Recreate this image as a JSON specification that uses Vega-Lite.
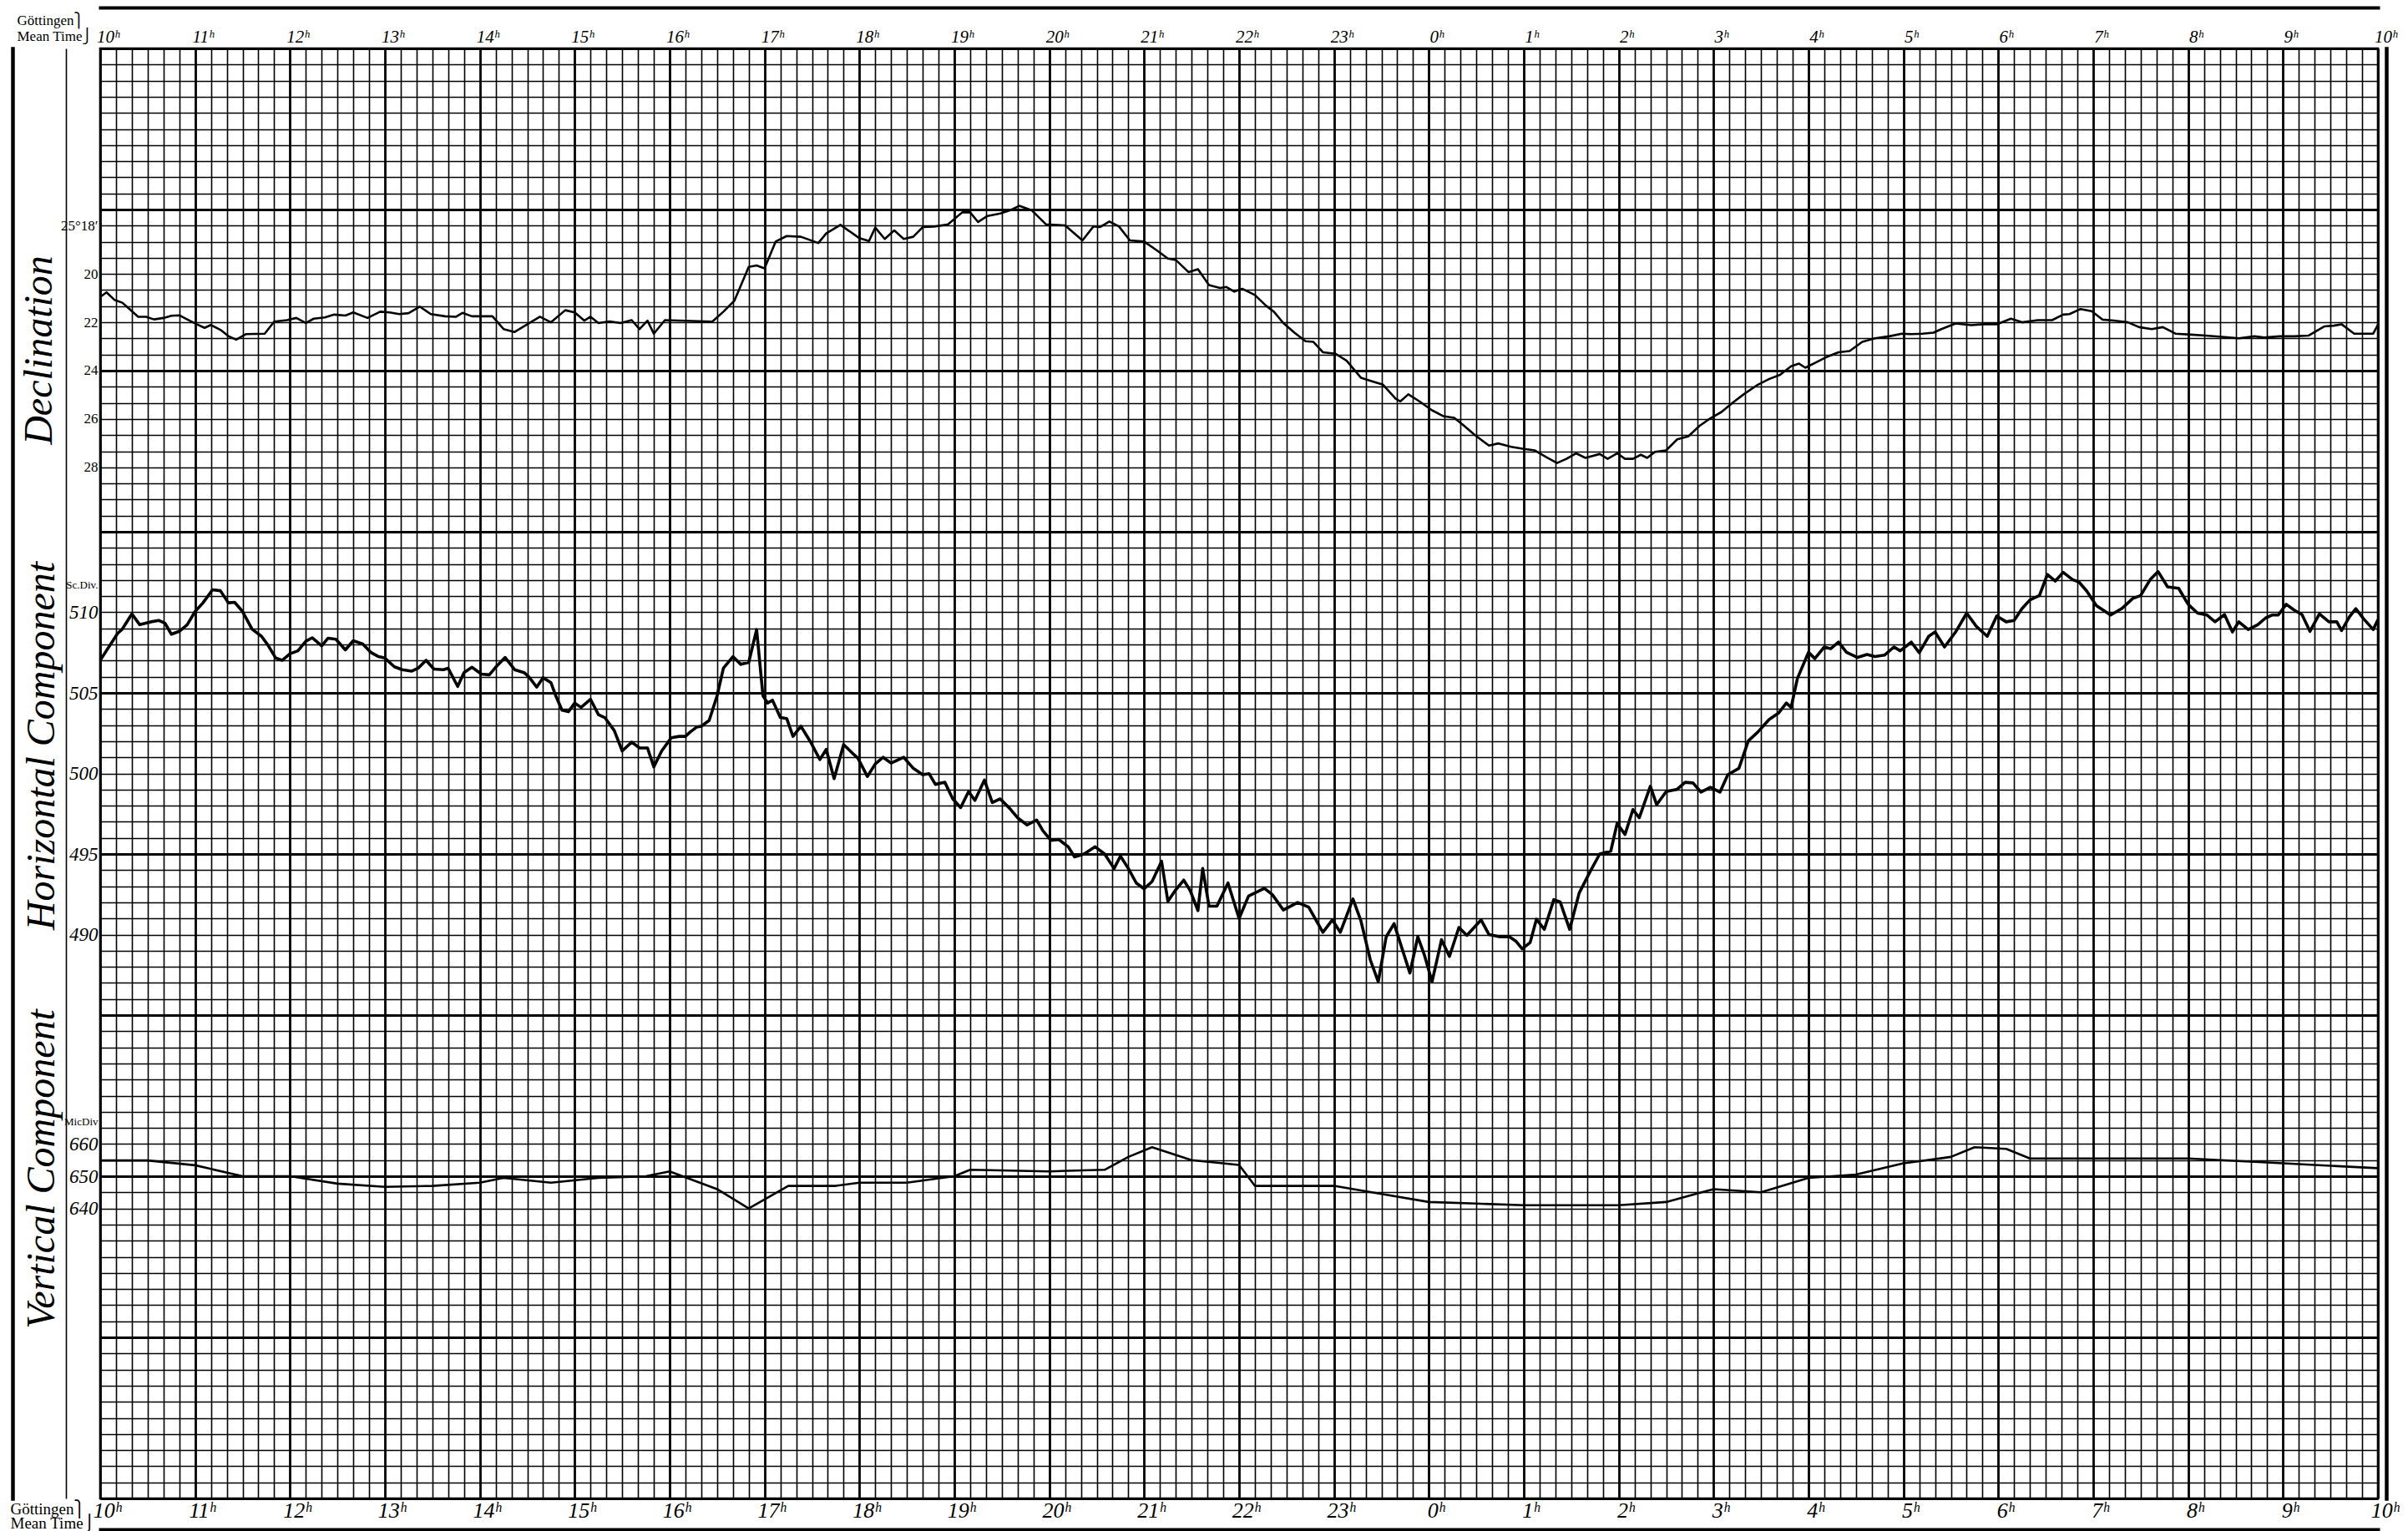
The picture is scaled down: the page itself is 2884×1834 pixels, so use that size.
{
  "$schema": "https://vega.github.io/schema/vega-lite/v6.json",
  "width": 2728,
  "height": 1737,
  "autosize": {"type": "none"},
  "padding": {"left": 120, "top": 58, "right": 36, "bottom": 39},
  "background": "white",
  "config": {
    "view": {"stroke": "black", "strokeWidth": 2.6},
    "axis": {"labelFont": "Liberation Serif", "titleFont": "Liberation Serif", "labelColor": "black", "titleColor": "black"}
  },
  "datasets": {
    "dec": [
      {"t":0,"dec":20.95},{"t":4,"dec":20.76},{"t":9,"dec":21.07},{"t":14,"dec":21.19},{"t":19,"dec":21.48},{"t":24,"dec":21.77},{"t":29,"dec":21.77},{"t":34,"dec":21.88},{"t":40,"dec":21.82},{"t":45,"dec":21.73},{"t":50,"dec":21.71},{"t":55,"dec":21.88},{"t":61,"dec":22.08},{"t":66,"dec":22.23},{"t":70,"dec":22.11},{"t":76,"dec":22.31},{"t":81,"dec":22.57},{"t":86,"dec":22.72},{"t":92,"dec":22.49},{"t":104,"dec":22.47},{"t":110,"dec":21.97},{"t":118,"dec":21.91},{"t":124,"dec":21.82},{"t":130,"dec":22.03},{"t":135,"dec":21.85},{"t":142,"dec":21.8},{"t":148,"dec":21.68},{"t":155,"dec":21.72},{"t":160,"dec":21.59},{"t":169,"dec":21.82},{"t":177,"dec":21.56},{"t":183,"dec":21.59},{"t":189,"dec":21.66},{"t":195,"dec":21.62},{"t":202,"dec":21.35},{"t":209,"dec":21.66},{"t":218,"dec":21.75},{"t":225,"dec":21.77},{"t":229,"dec":21.61},{"t":235,"dec":21.75},{"t":248,"dec":21.75},{"t":255,"dec":22.28},{"t":262,"dec":22.4},{"t":269,"dec":22.12},{"t":278,"dec":21.77},{"t":285,"dec":22.0},{"t":294,"dec":21.5},{"t":300,"dec":21.59},{"t":306,"dec":21.93},{"t":310,"dec":21.77},{"t":315,"dec":22.03},{"t":322,"dec":21.96},{"t":329,"dec":22.03},{"t":336,"dec":21.91},{"t":341,"dec":22.28},{"t":346,"dec":21.93},{"t":350,"dec":22.47},{"t":357,"dec":21.91},{"t":387,"dec":21.97},{"t":394,"dec":21.56},{"t":401,"dec":21.1},{"t":410,"dec":19.71},{"t":415,"dec":19.65},{"t":420,"dec":19.77},{"t":427,"dec":18.66},{"t":434,"dec":18.43},{"t":443,"dec":18.46},{"t":454,"dec":18.72},{"t":459,"dec":18.32},{"t":468,"dec":17.97},{"t":473,"dec":18.2},{"t":480,"dec":18.52},{"t":486,"dec":18.64},{"t":490,"dec":18.08},{"t":496,"dec":18.55},{"t":502,"dec":18.2},{"t":508,"dec":18.55},{"t":514,"dec":18.46},{"t":520,"dec":18.06},{"t":527,"dec":18.04},{"t":536,"dec":17.95},{"t":545,"dec":17.45},{"t":550,"dec":17.45},{"t":555,"dec":17.85},{"t":561,"dec":17.6},{"t":569,"dec":17.5},{"t":575,"dec":17.37},{"t":581,"dec":17.18},{"t":589,"dec":17.37},{"t":598,"dec":17.95},{"t":610,"dec":17.99},{"t":621,"dec":18.61},{"t":628,"dec":18.03},{"t":632,"dec":18.06},{"t":638,"dec":17.83},{"t":644,"dec":18.03},{"t":651,"dec":18.61},{"t":660,"dec":18.66},{"t":669,"dec":19.07},{"t":675,"dec":19.36},{"t":680,"dec":19.42},{"t":688,"dec":19.92},{"t":694,"dec":19.8},{"t":701,"dec":20.46},{"t":708,"dec":20.58},{"t":712,"dec":20.54},{"t":717,"dec":20.73},{"t":722,"dec":20.61},{"t":730,"dec":20.87},{"t":737,"dec":21.31},{"t":742,"dec":21.56},{"t":748,"dec":22.03},{"t":755,"dec":22.43},{"t":762,"dec":22.78},{"t":767,"dec":22.81},{"t":773,"dec":23.24},{"t":781,"dec":23.3},{"t":788,"dec":23.59},{"t":797,"dec":24.29},{"t":804,"dec":24.44},{"t":811,"dec":24.58},{"t":819,"dec":25.16},{"t":822,"dec":25.27},{"t":827,"dec":24.98},{"t":834,"dec":25.27},{"t":842,"dec":25.64},{"t":849,"dec":25.88},{"t":856,"dec":25.95},{"t":863,"dec":26.32},{"t":869,"dec":26.66},{"t":878,"dec":27.1},{"t":884,"dec":27.01},{"t":892,"dec":27.15},{"t":900,"dec":27.24},{"t":907,"dec":27.3},{"t":914,"dec":27.57},{"t":921,"dec":27.82},{"t":927,"dec":27.65},{"t":933,"dec":27.42},{"t":939,"dec":27.61},{"t":948,"dec":27.45},{"t":953,"dec":27.65},{"t":959,"dec":27.42},{"t":964,"dec":27.65},{"t":969,"dec":27.65},{"t":974,"dec":27.48},{"t":978,"dec":27.61},{"t":983,"dec":27.36},{"t":990,"dec":27.3},{"t":997,"dec":26.84},{"t":1004,"dec":26.72},{"t":1011,"dec":26.29},{"t":1018,"dec":25.97},{"t":1025,"dec":25.71},{"t":1032,"dec":25.33},{"t":1039,"dec":24.98},{"t":1048,"dec":24.58},{"t":1055,"dec":24.35},{"t":1062,"dec":24.17},{"t":1069,"dec":23.82},{"t":1074,"dec":23.71},{"t":1078,"dec":23.88},{"t":1085,"dec":23.65},{"t":1092,"dec":23.42},{"t":1099,"dec":23.24},{"t":1106,"dec":23.19},{"t":1114,"dec":22.81},{"t":1122,"dec":22.66},{"t":1131,"dec":22.58},{"t":1139,"dec":22.47},{"t":1145,"dec":22.49},{"t":1152,"dec":22.47},{"t":1159,"dec":22.43},{"t":1164,"dec":22.28},{"t":1173,"dec":22.05},{"t":1183,"dec":22.12},{"t":1192,"dec":22.07},{"t":1199,"dec":22.08},{"t":1208,"dec":21.85},{"t":1215,"dec":22.0},{"t":1225,"dec":21.91},{"t":1234,"dec":21.91},{"t":1241,"dec":21.68},{"t":1245,"dec":21.66},{"t":1252,"dec":21.45},{"t":1259,"dec":21.54},{"t":1266,"dec":21.89},{"t":1273,"dec":21.93},{"t":1282,"dec":22.0},{"t":1289,"dec":22.2},{"t":1297,"dec":22.28},{"t":1304,"dec":22.2},{"t":1312,"dec":22.47},{"t":1322,"dec":22.51},{"t":1331,"dec":22.55},{"t":1343,"dec":22.61},{"t":1352,"dec":22.66},{"t":1362,"dec":22.58},{"t":1368,"dec":22.63},{"t":1378,"dec":22.58},{"t":1387,"dec":22.58},{"t":1396,"dec":22.55},{"t":1406,"dec":22.17},{"t":1412,"dec":22.14},{"t":1417,"dec":22.08},{"t":1425,"dec":22.47},{"t":1437,"dec":22.47},{"t":1440,"dec":22.1}
    ],
    "hc": [
      {"t":0,"hc":507.02},{"t":11,"hc":508.69},{"t":14,"hc":508.96},{"t":20,"hc":509.9},{"t":25,"hc":509.23},{"t":32,"hc":509.41},{"t":37,"hc":509.5},{"t":41,"hc":509.32},{"t":45,"hc":508.64},{"t":50,"hc":508.82},{"t":55,"hc":509.23},{"t":60,"hc":510.05},{"t":65,"hc":510.59},{"t":71,"hc":511.4},{"t":76,"hc":511.34},{"t":81,"hc":510.59},{"t":85,"hc":510.62},{"t":90,"hc":510.05},{"t":96,"hc":508.96},{"t":102,"hc":508.51},{"t":106,"hc":507.97},{"t":111,"hc":507.16},{"t":115,"hc":507.02},{"t":120,"hc":507.43},{"t":125,"hc":507.61},{"t":130,"hc":508.21},{"t":134,"hc":508.42},{"t":140,"hc":507.92},{"t":144,"hc":508.39},{"t":149,"hc":508.33},{"t":155,"hc":507.67},{"t":160,"hc":508.24},{"t":166,"hc":508.03},{"t":171,"hc":507.52},{"t":176,"hc":507.25},{"t":180,"hc":507.16},{"t":186,"hc":506.62},{"t":191,"hc":506.44},{"t":197,"hc":506.35},{"t":201,"hc":506.53},{"t":206,"hc":507.02},{"t":211,"hc":506.48},{"t":217,"hc":506.44},{"t":220,"hc":506.53},{"t":226,"hc":505.4},{"t":230,"hc":506.26},{"t":235,"hc":506.59},{"t":241,"hc":506.17},{"t":246,"hc":506.12},{"t":250,"hc":506.59},{"t":256,"hc":507.2},{"t":262,"hc":506.44},{"t":268,"hc":506.26},{"t":271,"hc":505.99},{"t":276,"hc":505.36},{"t":280,"hc":505.94},{"t":285,"hc":505.63},{"t":288,"hc":504.82},{"t":292,"hc":503.92},{"t":296,"hc":503.83},{"t":300,"hc":504.37},{"t":304,"hc":504.1},{"t":310,"hc":504.6},{"t":315,"hc":503.65},{"t":319,"hc":503.47},{"t":325,"hc":502.66},{"t":330,"hc":501.4},{"t":336,"hc":501.94},{"t":341,"hc":501.58},{"t":346,"hc":501.58},{"t":350,"hc":500.41},{"t":355,"hc":501.4},{"t":361,"hc":502.21},{"t":366,"hc":502.3},{"t":370,"hc":502.3},{"t":373,"hc":502.57},{"t":377,"hc":502.87},{"t":380,"hc":502.93},{"t":385,"hc":503.29},{"t":390,"hc":504.82},{"t":394,"hc":506.53},{"t":400,"hc":507.25},{"t":405,"hc":506.77},{"t":410,"hc":506.89},{"t":415,"hc":508.93},{"t":419,"hc":504.82},{"t":422,"hc":504.37},{"t":425,"hc":504.55},{"t":430,"hc":503.47},{"t":434,"hc":503.41},{"t":438,"hc":502.3},{"t":443,"hc":502.93},{"t":449,"hc":501.97},{"t":455,"hc":500.86},{"t":459,"hc":501.49},{"t":464,"hc":499.68},{"t":470,"hc":501.79},{"t":476,"hc":501.22},{"t":479,"hc":500.95},{"t":485,"hc":499.81},{"t":490,"hc":500.59},{"t":495,"hc":501.0},{"t":500,"hc":500.64},{"t":508,"hc":501.0},{"t":514,"hc":500.32},{"t":520,"hc":499.92},{"t":524,"hc":499.99},{"t":528,"hc":499.32},{"t":534,"hc":499.45},{"t":539,"hc":498.42},{"t":544,"hc":497.88},{"t":549,"hc":498.87},{"t":553,"hc":498.33},{"t":559,"hc":499.59},{"t":564,"hc":498.19},{"t":569,"hc":498.42},{"t":575,"hc":497.83},{"t":580,"hc":497.25},{"t":586,"hc":496.8},{"t":592,"hc":497.11},{"t":596,"hc":496.44},{"t":601,"hc":495.85},{"t":606,"hc":495.9},{"t":612,"hc":495.45},{"t":616,"hc":494.82},{"t":622,"hc":495.0},{"t":629,"hc":495.45},{"t":635,"hc":495.0},{"t":641,"hc":494.1},{"t":645,"hc":494.87},{"t":650,"hc":494.1},{"t":655,"hc":493.2},{"t":660,"hc":492.84},{"t":665,"hc":493.29},{"t":671,"hc":494.55},{"t":675,"hc":492.06},{"t":680,"hc":492.78},{"t":685,"hc":493.38},{"t":689,"hc":492.75},{"t":694,"hc":491.49},{"t":697,"hc":494.1},{"t":701,"hc":491.76},{"t":706,"hc":491.76},{"t":713,"hc":493.2},{"t":720,"hc":491.0},{"t":726,"hc":492.39},{"t":736,"hc":492.87},{"t":741,"hc":492.48},{"t":748,"hc":491.52},{"t":757,"hc":491.99},{"t":764,"hc":491.7},{"t":773,"hc":490.14},{"t":779,"hc":490.91},{"t":784,"hc":490.14},{"t":792,"hc":492.21},{"t":797,"hc":490.86},{"t":803,"hc":488.42},{"t":808,"hc":487.07},{"t":813,"hc":489.86},{"t":818,"hc":490.68},{"t":823,"hc":489.14},{"t":828,"hc":487.61},{"t":833,"hc":489.86},{"t":837,"hc":488.78},{"t":842,"hc":487.07},{"t":848,"hc":489.68},{"t":853,"hc":488.64},{"t":859,"hc":490.44},{"t":864,"hc":489.95},{"t":873,"hc":490.91},{"t":878,"hc":490.0},{"t":885,"hc":489.86},{"t":891,"hc":489.86},{"t":895,"hc":489.59},{"t":899,"hc":489.11},{"t":904,"hc":489.5},{"t":908,"hc":490.95},{"t":913,"hc":490.32},{"t":919,"hc":492.17},{"t":923,"hc":492.03},{"t":929,"hc":490.32},{"t":935,"hc":492.57},{"t":942,"hc":493.92},{"t":948,"hc":495.0},{"t":955,"hc":495.18},{"t":959,"hc":496.89},{"t":964,"hc":496.21},{"t":969,"hc":497.76},{"t":973,"hc":497.25},{"t":980,"hc":499.2},{"t":984,"hc":498.06},{"t":990,"hc":498.87},{"t":997,"hc":499.02},{"t":1002,"hc":499.45},{"t":1007,"hc":499.41},{"t":1012,"hc":498.84},{"t":1018,"hc":499.14},{"t":1024,"hc":498.84},{"t":1029,"hc":499.92},{"t":1036,"hc":500.32},{"t":1042,"hc":502.03},{"t":1048,"hc":502.57},{"t":1055,"hc":503.34},{"t":1061,"hc":503.74},{"t":1066,"hc":504.37},{"t":1069,"hc":504.1},{"t":1073,"hc":505.9},{"t":1080,"hc":507.52},{"t":1084,"hc":507.13},{"t":1090,"hc":507.85},{"t":1094,"hc":507.74},{"t":1099,"hc":508.15},{"t":1104,"hc":507.52},{"t":1111,"hc":507.2},{"t":1117,"hc":507.38},{"t":1122,"hc":507.25},{"t":1128,"hc":507.34},{"t":1134,"hc":507.85},{"t":1138,"hc":507.61},{"t":1145,"hc":508.15},{"t":1150,"hc":507.49},{"t":1156,"hc":508.51},{"t":1160,"hc":508.78},{"t":1166,"hc":507.85},{"t":1173,"hc":508.78},{"t":1180,"hc":509.95},{"t":1186,"hc":509.14},{"t":1193,"hc":508.51},{"t":1199,"hc":509.77},{"t":1205,"hc":509.41},{"t":1210,"hc":509.5},{"t":1215,"hc":510.23},{"t":1220,"hc":510.77},{"t":1226,"hc":511.04},{"t":1231,"hc":512.35},{"t":1236,"hc":511.94},{"t":1241,"hc":512.48},{"t":1247,"hc":512.03},{"t":1251,"hc":511.88},{"t":1256,"hc":511.31},{"t":1262,"hc":510.41},{"t":1271,"hc":509.83},{"t":1278,"hc":510.23},{"t":1285,"hc":510.86},{"t":1290,"hc":511.04},{"t":1296,"hc":512.03},{"t":1301,"hc":512.53},{"t":1307,"hc":511.58},{"t":1314,"hc":511.49},{"t":1320,"hc":510.5},{"t":1326,"hc":509.95},{"t":1332,"hc":509.83},{"t":1337,"hc":509.41},{"t":1343,"hc":509.86},{"t":1348,"hc":508.78},{"t":1352,"hc":509.41},{"t":1358,"hc":508.93},{"t":1364,"hc":509.23},{"t":1369,"hc":509.65},{"t":1373,"hc":509.83},{"t":1377,"hc":509.83},{"t":1382,"hc":510.5},{"t":1387,"hc":510.14},{"t":1392,"hc":509.86},{"t":1397,"hc":508.82},{"t":1403,"hc":509.9},{"t":1409,"hc":509.41},{"t":1414,"hc":509.41},{"t":1417,"hc":508.87},{"t":1422,"hc":509.72},{"t":1426,"hc":510.23},{"t":1431,"hc":509.59},{"t":1437,"hc":508.93},{"t":1440,"hc":509.54}
    ],
    "vc": [
      {"t":0,"vc":654.9},{"t":30,"vc":654.9},{"t":60,"vc":653.4},{"t":90,"vc":650},{"t":120,"vc":650},{"t":150,"vc":647.7},{"t":180,"vc":646.7},{"t":210,"vc":647},{"t":240,"vc":648},{"t":255,"vc":649.5},{"t":285,"vc":648},{"t":315,"vc":649.5},{"t":345,"vc":650},{"t":360,"vc":651.5},{"t":390,"vc":646},{"t":410,"vc":640},{"t":435,"vc":647},{"t":465,"vc":647},{"t":480,"vc":648},{"t":510,"vc":648},{"t":540,"vc":650},{"t":550,"vc":652},{"t":600,"vc":651.5},{"t":635,"vc":652},{"t":650,"vc":656},{"t":665,"vc":659},{"t":690,"vc":655},{"t":720,"vc":653.5},{"t":730,"vc":647},{"t":780,"vc":647},{"t":810,"vc":644.5},{"t":840,"vc":642},{"t":870,"vc":641.5},{"t":900,"vc":641},{"t":960,"vc":641},{"t":990,"vc":642},{"t":1020,"vc":646},{"t":1050,"vc":645},{"t":1080,"vc":649.5},{"t":1110,"vc":650.5},{"t":1140,"vc":654},{"t":1170,"vc":656},{"t":1185,"vc":659},{"t":1205,"vc":658.5},{"t":1220,"vc":655.5},{"t":1260,"vc":655.5},{"t":1320,"vc":655.5},{"t":1380,"vc":654},{"t":1440,"vc":652.5}
    ]
  },
  "resolve": {
    "scale": {"x": "independent", "y": "independent"},
    "axis": {"x": "independent", "y": "independent"}
  },
  "layer": [
    {
      "data": {"name": "hc"},
      "mark": {"type": "line", "color": "black", "strokeWidth": 3.6, "strokeJoin": "round"},
      "encoding": {
        "x": {
          "field": "t", "type": "quantitative",
          "scale": {"domain": [0, 1440], "nice": false, "zero": false},
          "axis": {
            "orient": "bottom",
            "values": [0,10,20,30,40,50,60,70,80,90,100,110,120,130,140,150,160,170,180,190,200,210,220,230,240,250,260,270,280,290,300,310,320,330,340,350,360,370,380,390,400,410,420,430,440,450,460,470,480,490,500,510,520,530,540,550,560,570,580,590,600,610,620,630,640,650,660,670,680,690,700,710,720,730,740,750,760,770,780,790,800,810,820,830,840,850,860,870,880,890,900,910,920,930,940,950,960,970,980,990,1000,1010,1020,1030,1040,1050,1060,1070,1080,1090,1100,1110,1120,1130,1140,1150,1160,1170,1180,1190,1200,1210,1220,1230,1240,1250,1260,1270,1280,1290,1300,1310,1320,1330,1340,1350,1360,1370,1380,1390,1400,1410,1420,1430,1440],
            "grid": true, "gridColor": "black",
            "gridWidth": {"condition": {"test": "datum.value % 60 === 0", "value": 2.8}, "value": 1.6},
            "ticks": false, "domain": false,
            "labelExpr": "datum.value % 60 === 0 ? ((datum.value / 60 + 10) % 24) + 'ʰ' : ''",
            "labelFontSize": 26, "labelFontStyle": "italic", "labelPadding": 1, "labelOffset": 8,
            "labelOverlap": false, "labelFlush": false, "labelBound": false,
            "title": ["Göttingen⎫", "Mean Time⎭"],
            "titleX": -108, "titleY": 18, "titleAlign": "left", "titleBaseline": "alphabetic",
            "titleFontSize": 19, "titleFontWeight": "normal", "titleLineHeight": 17
          }
        },
        "y": {
          "field": "hc", "type": "quantitative",
          "scale": {"domain": [455, 545], "nice": false, "zero": false},
          "axis": {
            "orient": "left",
            "values": [455,456,457,458,459,460,461,462,463,464,465,466,467,468,469,470,471,472,473,474,475,476,477,478,479,480,481,482,483,484,485,486,487,488,489,490,491,492,493,494,495,496,497,498,499,500,501,502,503,504,505,506,507,508,509,510,511,512,513,514,515,516,517,518,519,520,521,522,523,524,525,526,527,528,529,530,531,532,533,534,535,536,537,538,539,540,541,542,543,544,545],
            "grid": true, "gridColor": "black",
            "gridWidth": {"condition": {"test": "(datum.value + 5) % 10 === 0", "value": 2.8}, "value": 1.6},
            "labels": false, "ticks": false, "domain": false, "title": null
          }
        }
      }
    },
    {
      "data": {"name": "dec"},
      "mark": {"type": "line", "color": "black", "strokeWidth": 2.6, "strokeJoin": "round"},
      "encoding": {
        "x": {
          "field": "t", "type": "quantitative",
          "scale": {"domain": [0, 1440], "nice": false, "zero": false},
          "axis": {
            "orient": "top",
            "values": [0,60,120,180,240,300,360,420,480,540,600,660,720,780,840,900,960,1020,1080,1140,1200,1260,1320,1380,1440],
            "grid": false, "ticks": false, "domain": false,
            "labelExpr": "((datum.value / 60 + 10) % 24) + 'ʰ'",
            "labelFontSize": 21, "labelFontStyle": "italic", "labelPadding": 4, "labelOffset": 9,
            "labelOverlap": false, "labelFlush": false, "labelBound": false,
            "title": ["Göttingen⎫", "Mean Time⎭"],
            "titleX": -100, "titleY": -29, "titleAlign": "left", "titleBaseline": "alphabetic",
            "titleFontSize": 17, "titleFontWeight": "normal", "titleLineHeight": 19
          }
        },
        "y": {
          "field": "dec", "type": "quantitative",
          "scale": {"domain": [10.6667, 70.6667], "nice": false, "zero": false, "reverse": true},
          "axis": {
            "orient": "left",
            "values": [18, 20, 22, 24, 26, 28],
            "labelExpr": "datum.value === 18 ? '25°18′' : datum.label",
            "grid": false, "ticks": false, "domain": false,
            "labelFontSize": 17, "labelPadding": 3, "labelAlign": "right", "labelBaseline": "middle",
            "title": "Declination", "titleFontSize": 48, "titleFontStyle": "italic", "titleFontWeight": "normal",
            "titleAngle": 270, "titleX": -73, "titleY": 361, "titleAlign": "center", "titleBaseline": "middle"
          }
        }
      }
    },
    {
      "data": {"name": "hc"},
      "mark": {"type": "line", "color": "black", "strokeOpacity": 0},
      "encoding": {
        "x": {
          "field": "t", "type": "quantitative",
          "scale": {"domain": [0, 1440], "nice": false, "zero": false},
          "axis": {"orient": "top", "offset": 49, "domain": true, "domainColor": "black", "domainWidth": 4, "domainCap": "square", "labels": false, "ticks": false, "grid": false, "title": null}
        },
        "y": {
          "field": "hc", "type": "quantitative",
          "scale": {"domain": [455, 545], "nice": false, "zero": false},
          "axis": {
            "orient": "left",
            "values": [490, 495, 500, 505, 510, 511.7],
            "labelExpr": "datum.value > 511 ? 'Sc.Div.' : datum.label",
            "grid": false, "ticks": false, "domain": false,
            "labelFontSize": {"condition": {"test": "datum.value > 511", "value": 13}, "value": 23},
            "labelFontStyle": {"condition": {"test": "datum.value > 511", "value": "normal"}, "value": "italic"},
            "labelPadding": 3, "labelAlign": "right", "labelBaseline": "middle",
            "title": "Horizontal Component", "titleFontSize": 48, "titleFontStyle": "italic", "titleFontWeight": "normal",
            "titleAngle": 270, "titleX": -70, "titleY": 835, "titleAlign": "center", "titleBaseline": "middle"
          }
        }
      }
    },
    {
      "data": {"name": "vc"},
      "mark": {"type": "line", "color": "black", "strokeWidth": 2.6, "strokeJoin": "round"},
      "encoding": {
        "x": {
          "field": "t", "type": "quantitative",
          "scale": {"domain": [0, 1440], "nice": false, "zero": false},
          "axis": {"orient": "bottom", "offset": 37, "domain": true, "domainColor": "black", "domainWidth": 4, "domainCap": "square", "labels": false, "ticks": false, "grid": false, "title": null}
        },
        "y": {
          "field": "vc", "type": "quantitative",
          "scale": {"domain": [550, 1000], "nice": false, "zero": false},
          "axis": {
            "orient": "left",
            "values": [640, 650, 660, 667],
            "labelExpr": "datum.value > 665 ? 'MicDiv' : datum.label",
            "grid": false, "ticks": false, "domain": false,
            "labelFontSize": {"condition": {"test": "datum.value > 665", "value": 13}, "value": 23},
            "labelFontStyle": {"condition": {"test": "datum.value > 665", "value": "normal"}, "value": "italic"},
            "labelPadding": 3, "labelAlign": "right", "labelBaseline": "middle",
            "title": "Vertical Component", "titleFontSize": 48, "titleFontStyle": "italic", "titleFontWeight": "normal",
            "titleAngle": 270, "titleX": -70, "titleY": 1342, "titleAlign": "center", "titleBaseline": "middle"
          }
        }
      }
    },
    {
      "data": {"name": "vc"},
      "mark": {"type": "line", "color": "black", "strokeOpacity": 0},
      "encoding": {
        "x": {"field": "t", "type": "quantitative", "scale": {"domain": [0, 1440], "nice": false, "zero": false}, "axis": null},
        "y": {
          "field": "vc", "type": "quantitative",
          "scale": {"domain": [550, 1000], "nice": false, "zero": false},
          "axis": {"orient": "left", "offset": 41, "domain": true, "domainColor": "black", "domainWidth": 1.6, "labels": false, "ticks": false, "grid": false, "title": null}
        }
      }
    },
    {
      "data": {"name": "vc"},
      "mark": {"type": "line", "color": "black", "strokeOpacity": 0},
      "encoding": {
        "x": {"field": "t", "type": "quantitative", "scale": {"domain": [0, 1440], "nice": false, "zero": false}, "axis": null},
        "y": {
          "field": "vc", "type": "quantitative",
          "scale": {"domain": [550, 1000], "nice": false, "zero": false},
          "axis": {"orient": "left", "offset": 105, "domain": true, "domainColor": "black", "domainWidth": 4.5, "domainCap": "square", "labels": false, "ticks": false, "grid": false, "title": null}
        }
      }
    },
    {
      "data": {"name": "vc"},
      "mark": {"type": "line", "color": "black", "strokeOpacity": 0},
      "encoding": {
        "x": {"field": "t", "type": "quantitative", "scale": {"domain": [0, 1440], "nice": false, "zero": false}, "axis": null},
        "y": {
          "field": "vc", "type": "quantitative",
          "scale": {"domain": [550, 1000], "nice": false, "zero": false},
          "axis": {"orient": "right", "offset": 10, "domain": true, "domainColor": "black", "domainWidth": 4.5, "domainCap": "square", "labels": false, "ticks": false, "grid": false, "title": null}
        }
      }
    }
  ]
}
